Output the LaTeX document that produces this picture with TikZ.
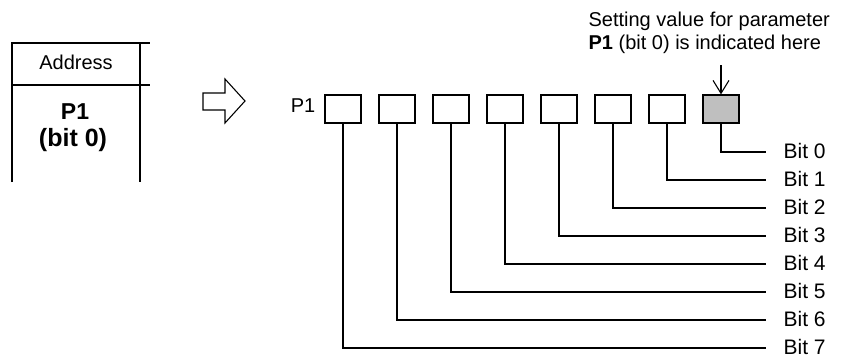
\documentclass[tikz,border=0pt]{standalone}
\usepackage{fontspec}
\setmainfont{Liberation Sans}
\usetikzlibrary{arrows.meta}
\begin{document}
\begin{tikzpicture}[x=1pt,y=-1pt,
  line width=1.2pt,
  txt/.style={font=\fontsize{20}{23}\selectfont, inner sep=0pt},
  bold/.style={font=\fontsize{23}{26}\selectfont\bfseries, inner sep=0pt, anchor=base},
  bitbox/.style={draw, minimum width=36pt, minimum height=28pt, inner sep=0pt},
  setbox/.style={bitbox, fill=black!25},
  bitlbl/.style={font=\fontsize{21}{24}\selectfont, inner sep=0pt, text depth=0pt, anchor=base west}]
\useasboundingbox (0,0) rectangle (844,356);
% left table
\draw (12,182) -- (12,43) -- (150,43);
\draw (12,85) -- (150,85);
\draw (140,43) -- (140,182);
\node[txt] (addr) at (76,62) {Address};
\node[bold] (p1a) at (75,119) {P1};
\node[bold, font=\fontsize{25}{28}\selectfont\bfseries] (p1b) at (73,146) {(bit 0)};
% hollow block arrow
\draw[line width=1.1pt, line join=miter] (203,93) -- (225,93) -- (225,79) -- (245,101) -- (225,123) -- (225,110) -- (203,110) -- cycle;
% register label
\node[txt] (reg) at (303,106) {P1};
% bit boxes
\foreach \k in {0,...,6}{
  \pgfmathtruncatemacro{\b}{7-\k}
  \node[bitbox] (b\b) at (343+54*\k,109) {};
}
\node[setbox] (b0) at (721,109) {};
% leader lines and labels
\foreach \b in {0,...,7}{
  \coordinate (e\b) at (766,152+28*\b);
  \draw (b\b.south) |- (e\b);
  \node[bitlbl] (l\b) at (783,158+28*\b) {Bit \b};
}
% note
\node[txt, anchor=west] (n1) at (588,21) {Setting value for parameter};
\node[txt, anchor=west] (n2) at (588,44) {\textbf{P1} (bit 0) is indicated here};
\coordinate (na) at (721,65);
\draw[-{Straight Barb[length=13pt,width=16pt,line width=1.1pt]}, line width=1.1pt] (na) -- (b0.north);
\end{tikzpicture}
\end{document}
